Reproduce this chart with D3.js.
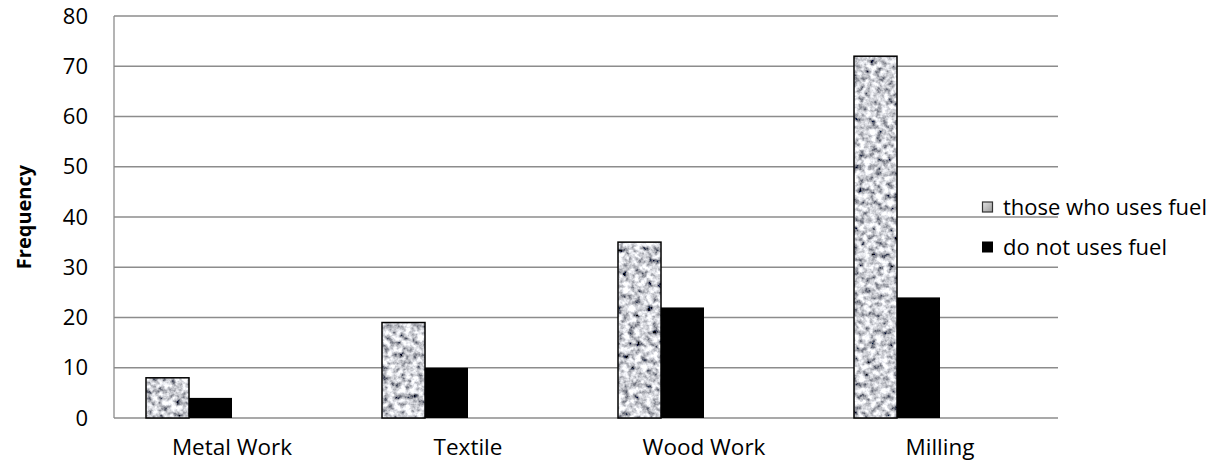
<!DOCTYPE html>
<html><head><meta charset="utf-8">
<script src="https://cdn.jsdelivr.net/npm/d3@7"></script>
<style>body{margin:0;background:#fff}</style>
</head><body>
<script>
const categories = ["Metal Work", "Textile", "Wood Work", "Milling"];
const seriesNames = ["those who uses fuel", "do not uses fuel"];
const usesFuel = [8, 19, 35, 72];
const noFuel = [4, 10, 22, 24];
const yTicks = [0, 10, 20, 30, 40, 50, 60, 70, 80];
const yTitle = "Frequency";

const W = 1222, H = 465;
const m = {l: 114, r: 164, t: 16, b: 47};
const font = "'Open Sans', 'Noto Sans', sans-serif";
const svg = d3.select("body").append("svg").attr("width", W).attr("height", H);

const defs = svg.append("defs");
const f = defs.append("filter").attr("id", "granite")
  .attr("x", 0).attr("y", 0).attr("width", 1).attr("height", 1);
f.append("feTurbulence").attr("type", "fractalNoise").attr("baseFrequency", 0.17)
  .attr("numOctaves", 3).attr("seed", 7).attr("result", "noise");
f.append("feColorMatrix").attr("in", "noise").attr("type", "matrix")
  .attr("values", "2.0 0 0 0 -0.38  2.0 0 0 0 -0.37  2.0 0 0 0 -0.33  0 0 0 0 1").attr("result", "g");
f.append("feComposite").attr("in", "g").attr("in2", "SourceGraphic").attr("operator", "in");

const x0 = d3.scaleBand().domain(categories).range([m.l, W - m.r]).paddingInner(64/236).paddingOuter(32/236);
const slots = ["a", "b", "c", "d"];
const x1 = d3.scaleBand().domain(slots).range([0, x0.bandwidth()]);
const y = d3.scaleLinear().domain([0, 80]).range([H - m.b, m.t]);

// gridlines
svg.append("g").selectAll("line").data(yTicks).join("line")
  .attr("x1", m.l).attr("x2", W - m.r)
  .attr("y1", d => y(d)).attr("y2", d => y(d))
  .attr("stroke", "#8c8c8c").attr("stroke-width", 1.3);
svg.append("line").attr("x1", m.l).attr("x2", m.l).attr("y1", y(80)).attr("y2", y(0))
  .attr("stroke", "#8c8c8c").attr("stroke-width", 1.3);

// y axis labels
const yAxis = d3.axisLeft(y).tickValues(yTicks).tickSize(0).tickPadding(26);
const gy = svg.append("g").attr("transform", `translate(${m.l},0)`).call(yAxis);
gy.select(".domain").remove();
gy.selectAll("text").attr("font-family", font).attr("font-size", 22).attr("fill", "#000");

// x axis labels
const xAxis = d3.axisBottom(x0).tickSize(0).tickPadding(21);
const gx = svg.append("g").attr("transform", `translate(0,${y(0)})`).call(xAxis);
gx.select(".domain").remove();
gx.selectAll("text").attr("font-family", font).attr("font-size", 22.5).attr("fill", "#000");

// bars
const g = svg.append("g");
g.selectAll("rect.fuel").data(categories).join("rect").attr("class", "fuel")
  .attr("x", d => x0(d) + x1("a")).attr("width", x1.bandwidth())
  .attr("y", (d, i) => y(usesFuel[i])).attr("height", (d, i) => y(0) - y(usesFuel[i]))
  .attr("fill", "#000").attr("filter", "url(#granite)");
g.selectAll("rect.fuelo").data(categories).join("rect").attr("class", "fuelo")
  .attr("x", d => x0(d) + x1("a")).attr("width", x1.bandwidth())
  .attr("y", (d, i) => y(usesFuel[i])).attr("height", (d, i) => y(0) - y(usesFuel[i]))
  .attr("fill", "none").attr("stroke", "#000").attr("stroke-width", 1.5);
g.selectAll("rect.nofuel").data(categories).join("rect").attr("class", "nofuel")
  .attr("x", d => x0(d) + x1("b")).attr("width", x1.bandwidth())
  .attr("y", (d, i) => y(noFuel[i])).attr("height", (d, i) => y(0) - y(noFuel[i]))
  .attr("fill", "#000");

// y title
svg.append("text").attr("transform", `translate(31,${(y(0) + y(80)) / 2}) rotate(-90)`)
  .attr("text-anchor", "middle").attr("font-family", font).attr("font-weight", "bold")
  .attr("font-size", 20).text(yTitle);

// legend
const lg = svg.append("g").attr("transform", "translate(982,0)");
const rows = [207, 247];
const sw = lg.append("linearGradient").attr("id", "lgrad").attr("x1", 0).attr("y1", 0).attr("x2", 1).attr("y2", 1);
sw.append("stop").attr("offset", 0).attr("stop-color", "#e4e4e4");
sw.append("stop").attr("offset", 1).attr("stop-color", "#9a9a9a");
lg.append("rect").attr("x", 0.5).attr("y", rows[0] - 5).attr("width", 10).attr("height", 10)
  .attr("fill", "url(#lgrad)").attr("stroke", "#333").attr("stroke-width", 1.2);
lg.append("rect").attr("x", 0).attr("y", rows[1] - 5.5).attr("width", 11).attr("height", 11)
  .attr("fill", "#000");
lg.selectAll("text").data(seriesNames).join("text")
  .attr("x", 21).attr("y", (d, i) => rows[i]).attr("dy", "0.35em")
  .attr("font-family", font).attr("font-size", 22).attr("fill", "#000").text(d => d);
</script>
</body></html>
